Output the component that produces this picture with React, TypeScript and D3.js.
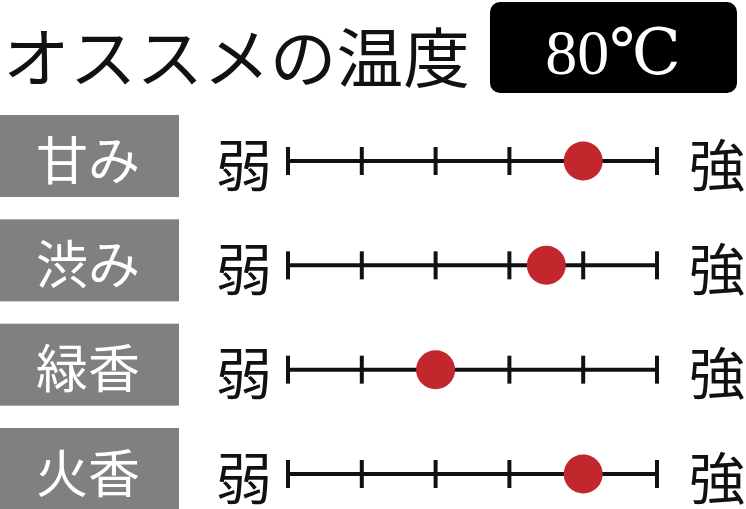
import * as d3 from 'd3';

const titleText = 'オススメの温度';
const temperature = '80℃';
const attributes = ['甘み', '渋み', '緑香', '火香'];
const levels = [4, 3.5, 2, 4];
const scaleTicks = [0, 1, 2, 3, 4, 5];
const weakLabel = '弱';
const strongLabel = '強';

const width = 746;
const height = 509;
const jpFont = '"Noto Sans CJK JP", "Noto Sans CJK SC", sans-serif';

function App() {
  const x = d3.scaleLinear().domain([0, 5]).range([288, 657]);
  const y = d3.scalePoint<string>().domain(attributes).range([161, 474]);

  return (
    <svg
      width={width}
      height={height}
      viewBox={`0 0 ${width} ${height}`}
      style={{ position: 'absolute', left: 0, top: 0, display: 'block', background: '#ffffff' }}
    >
      <text
        x={3}
        y={54}
        fontFamily={jpFont}
        fontSize={65}
        fill="#111"
        dominantBaseline="central"
        textLength={467}
        lengthAdjust="spacingAndGlyphs"
      >
        {titleText}
      </text>

      <rect x={490} y={2} width={247} height={91} rx={10} fill="#000" />
      <text
        x={613}
        y={52}
        fontFamily='"Liberation Serif", "DejaVu Serif", serif'
        fontSize={64}
        fill="#fff"
        textAnchor="middle"
        dominantBaseline="central"
      >
        {temperature}
      </text>

      {attributes.map((name, i) => {
        const cy = y(name) ?? 0;
        return (
          <g key={name}>
            <rect x={0} y={cy - 46} width={179} height={82} fill="#808080" />
            <text
              x={88}
              y={cy - 4}
              fontFamily={jpFont}
              fontSize={52}
              fill="#fff"
              textAnchor="middle"
              dominantBaseline="central"
            >
              {name}
            </text>
            <text
              x={244}
              y={cy}
              fontFamily={jpFont}
              fontSize={56}
              fill="#111"
              textAnchor="middle"
              dominantBaseline="central"
            >
              {weakLabel}
            </text>
            <text
              x={717}
              y={cy}
              fontFamily={jpFont}
              fontSize={56}
              fill="#111"
              textAnchor="middle"
              dominantBaseline="central"
            >
              {strongLabel}
            </text>
            <line x1={x(0)} x2={x(5)} y1={cy} y2={cy} stroke="#111" strokeWidth={4} />
            {scaleTicks.map((t) => (
              <line
                key={t}
                x1={x(t)}
                x2={x(t)}
                y1={cy - 14}
                y2={cy + 14}
                stroke="#111"
                strokeWidth={4}
              />
            ))}
            <circle cx={x(levels[i])} cy={cy} r={19.5} fill="#c1272d" />
          </g>
        );
      })}
    </svg>
  );
}

export default App;
